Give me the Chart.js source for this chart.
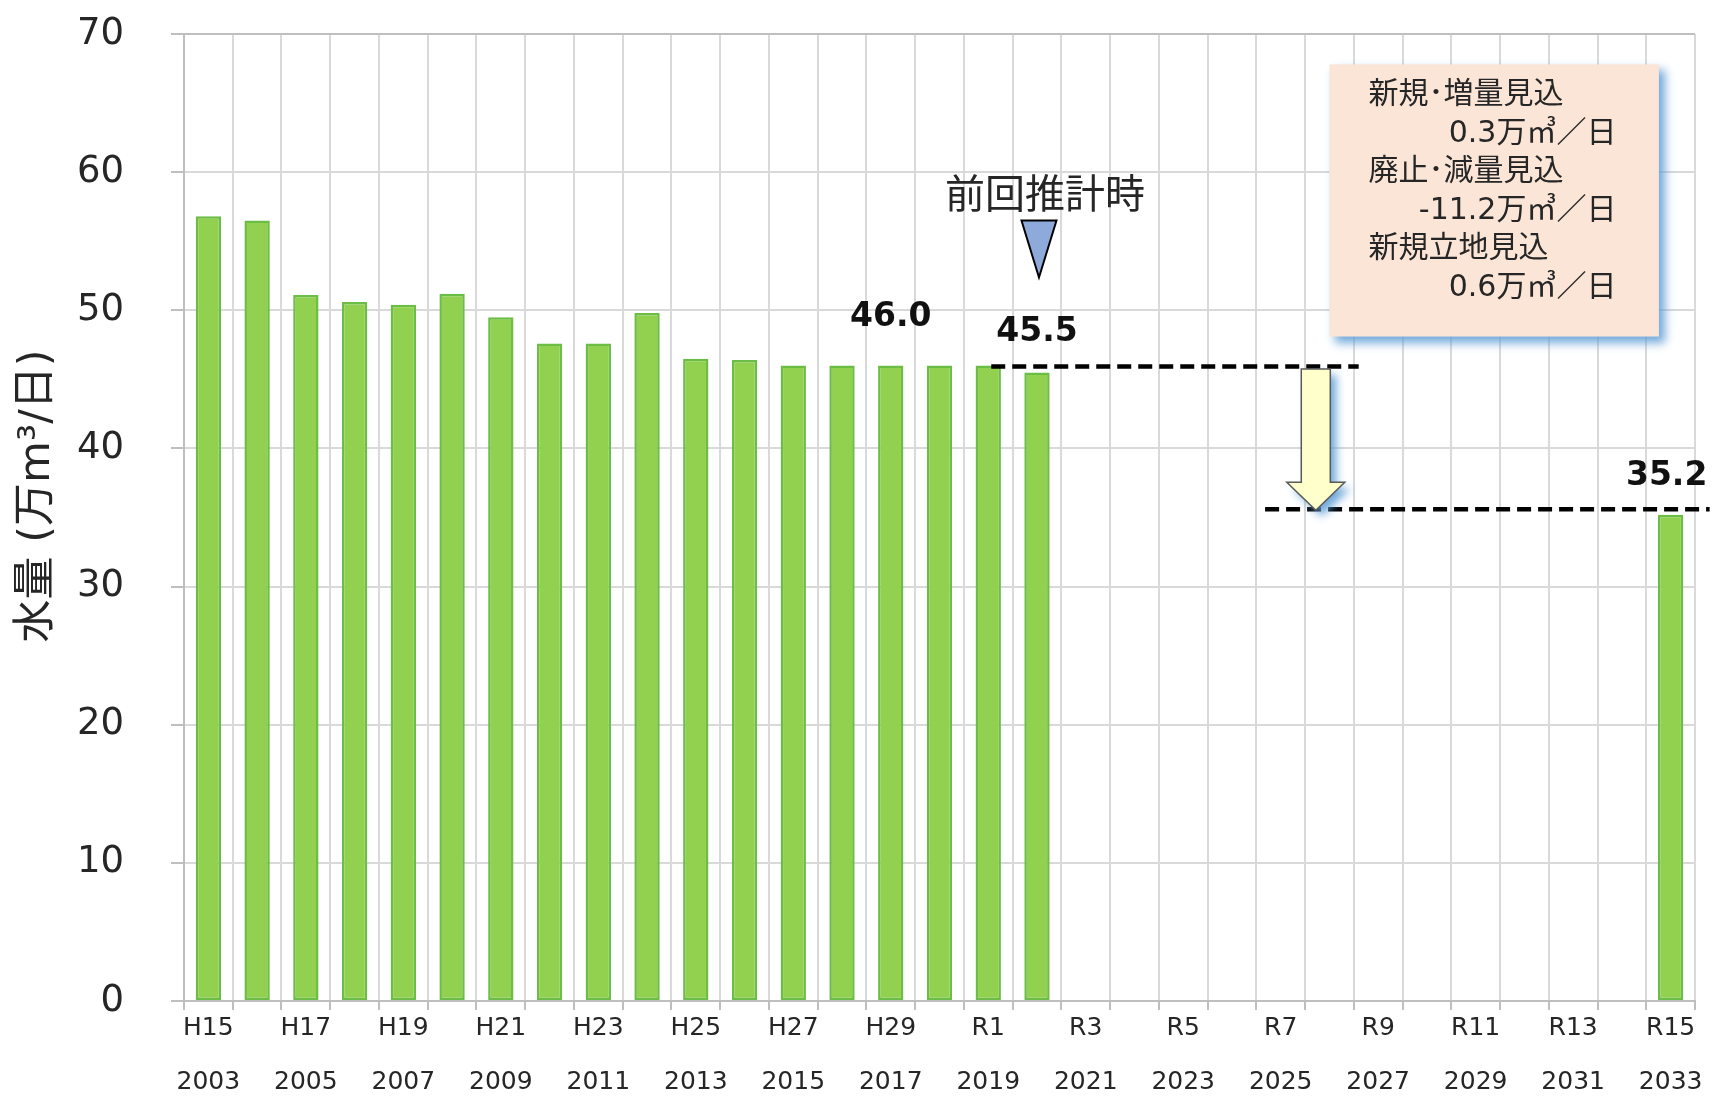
<!DOCTYPE html>
<html>
<head>
<meta charset="utf-8">
<script src="https://cdn.jsdelivr.net/npm/chart.js@4/dist/chart.umd.min.js"></script>
<style>
  html, body { margin: 0; padding: 0; background: #ffffff; }
  #wrap { width: 1719px; height: 1096px; }
</style>
</head>
<body>
<div id="wrap"><canvas id="chart" width="1719" height="1096"></canvas></div>
<script>
// ---------- data ----------
const years = [2003, 2004, 2005, 2006, 2007, 2008, 2009, 2010, 2011, 2012,
               2013, 2014, 2015, 2016, 2017, 2018, 2019, 2020, 2021, 2022,
               2023, 2024, 2025, 2026, 2027, 2028, 2029, 2030, 2031, 2032, 2033];
const eraLabels = ['H15', 'H16', 'H17', 'H18', 'H19', 'H20', 'H21', 'H22', 'H23', 'H24',
                   'H25', 'H26', 'H27', 'H28', 'H29', 'H30', 'R1', 'R2', 'R3', 'R4',
                   'R5', 'R6', 'R7', 'R8', 'R9', 'R10', 'R11', 'R12', 'R13', 'R14', 'R15'];
const waterVolume = [56.8, 56.5, 51.1, 50.6, 50.4, 51.2, 49.5, 47.6, 47.6, 49.8,
                     46.5, 46.4, 46.0, 46.0, 46.0, 46.0, 46.0, 45.5, null, null,
                     null, null, null, null, null, null, null, null, null, null, 35.2];
const yMin = 0, yMax = 70, yStep = 10;
const yTitle = '水量 (万m³/日)';

// annotation content
const valueLabels = [
  { year: 2017, value: 46.0, text: '46.0' },
  { year: 2020, value: 45.5, text: '45.5' },
  { year: 2033, value: 35.2, text: '35.2' }
];
const previousEstimate = { year: 2020, value: 45.5, text: '前回推計時' };
const previousLevel = 46.0;   // dashed line level (前回)
const forecastLevel = 35.2;   // dashed line level (R15)
const noteLines = [
  { text: '新規･増量見込', align: 'left' },
  { text: '0.3万㎥／日', align: 'right' },
  { text: '廃止･減量見込', align: 'left' },
  { text: '-11.2万㎥／日', align: 'right' },
  { text: '新規立地見込', align: 'left' },
  { text: '0.6万㎥／日', align: 'right' }
];

// ---------- styles ----------
const LATIN_JP = "'DejaVu Sans', 'Noto Sans CJK JP', sans-serif";
const TEXT = '#262626';
const GRID = '#d9d9d9';
const AXIS = '#bfbfbf';

const annotationPlugin = {
  id: 'annotations',
  afterDatasetsDraw(chart) {
    const { ctx, scales: { x, y } } = chart;
    const xOf = yr => x.getPixelForValue(years.indexOf(yr));
    ctx.save();

    // value labels
    ctx.fillStyle = '#111111';
    ctx.font = "bold 33px 'DejaVu Sans', sans-serif";
    ctx.textAlign = 'center';
    ctx.textBaseline = 'middle';
    const lift = { 2017: 48, 2020: 40, 2033: 38 };
    const shift = { 2017: 0, 2020: 0, 2033: -4 };
    valueLabels.forEach(l => {
      ctx.fillText(l.text, xOf(l.year) + shift[l.year], y.getPixelForValue(l.value) - lift[l.year]);
    });

    // dashed level lines
    const y1 = y.getPixelForValue(previousLevel) + 1;
    const y2 = y.getPixelForValue(forecastLevel) - 5.5;
    ctx.strokeStyle = '#000000';
    ctx.lineWidth = 4.5;
    ctx.setLineDash([14, 7]);
    ctx.beginPath();
    ctx.moveTo(xOf(2019) + 3, y1);
    ctx.lineTo(x.getPixelForValue(23.6), y1);
    ctx.stroke();
    ctx.beginPath();
    ctx.moveTo(x.getPixelForValue(21.68), y2);
    ctx.lineTo(x.getPixelForValue(30.8), y2);
    ctx.stroke();
    ctx.setLineDash([]);

    // down arrow
    const ax = x.getPixelForValue(22.72);
    const aTop = y1 + 2.5, aTip = y2 + 1;
    const headH = 28, shaftW = 14.5, headW = 29;
    ctx.save();
    ctx.shadowColor = 'rgba(91,155,213,0.85)';
    ctx.shadowBlur = 8;
    ctx.shadowOffsetX = 6;
    ctx.shadowOffsetY = 6;
    ctx.beginPath();
    ctx.moveTo(ax - shaftW, aTop);
    ctx.lineTo(ax + shaftW, aTop);
    ctx.lineTo(ax + shaftW, aTip - headH);
    ctx.lineTo(ax + headW, aTip - headH);
    ctx.lineTo(ax, aTip);
    ctx.lineTo(ax - headW, aTip - headH);
    ctx.lineTo(ax - shaftW, aTip - headH);
    ctx.closePath();
    ctx.fillStyle = '#ffffcc';
    ctx.fill();
    ctx.restore();
    ctx.strokeStyle = '#595959';
    ctx.lineWidth = 1.5;
    ctx.stroke();

    // previous estimate marker
    const barTop = y.getPixelForValue(previousEstimate.value);
    const tx = xOf(previousEstimate.year) + 2;
    ctx.beginPath();
    ctx.moveTo(tx - 17.5, barTop - 152);
    ctx.lineTo(tx + 17.5, barTop - 152);
    ctx.lineTo(tx, barTop - 95);
    ctx.closePath();
    ctx.fillStyle = '#8eaadb';
    ctx.fill();
    ctx.strokeStyle = '#000000';
    ctx.lineWidth = 2;
    ctx.stroke();
    ctx.fillStyle = TEXT;
    ctx.font = "40px 'Noto Sans CJK JP', sans-serif";
    ctx.textAlign = 'center';
    ctx.fillText(previousEstimate.text, tx + 6, barTop - 180);

    // note box
    const bl = x.getPixelForValue(23.0), br = x.getPixelForValue(29.76);
    const bt = y.getPixelForValue(67.8), bb = y.getPixelForValue(48.1);
    ctx.save();
    ctx.shadowColor = 'rgba(91,155,213,0.85)';
    ctx.shadowBlur = 9;
    ctx.shadowOffsetX = 6;
    ctx.shadowOffsetY = 6;
    ctx.fillStyle = '#fbe5d6';
    ctx.fillRect(bl, bt, br - bl, bb - bt);
    ctx.restore();
    ctx.fillStyle = TEXT;
    ctx.font = "30px " + LATIN_JP;
    ctx.textBaseline = 'middle';
    noteLines.forEach((l, i) => {
      const ly = bt + 31 + i * 38.5;
      if (l.align === 'left') { ctx.textAlign = 'left'; ctx.fillText(l.text, bl + 39, ly); }
      else { ctx.textAlign = 'right'; ctx.fillText(l.text, bl + 287, ly); }
    });

    ctx.restore();
  }
};

new Chart(document.getElementById('chart'), {
  type: 'bar',
  data: {
    labels: years.map(String),
    datasets: [{
      data: waterVolume,
      backgroundColor: '#92d050',
      borderColor: '#6cbd45',
      borderWidth: 2.5,
      borderSkipped: false,
      barPercentage: 0.52,
      categoryPercentage: 1.0
    }]
  },
  options: {
    responsive: false,
    animation: false,
    devicePixelRatio: 1,
    layout: { padding: { left: 0, right: 24, top: 34, bottom: 0 } },
    plugins: { legend: { display: false }, tooltip: { enabled: false } },
    scales: {
      x: {
        offset: true,
        grid: { offset: true, color: GRID, lineWidth: 2, tickLength: 9, tickColor: AXIS, tickWidth: 2 },
        border: { color: AXIS, width: 2 },
        ticks: {
          autoSkip: false,
          maxRotation: 0,
          padding: -9,
          color: TEXT,
          font: { family: "'DejaVu Sans', sans-serif", size: 25, lineHeight: 2.16 },
          callback: (v, i) => (i % 2 === 0 ? [eraLabels[i], String(years[i])] : '')
        },
        afterFit: s => { s.height = 95; s.paddingLeft = 0; s.paddingRight = 0; }
      },
      y: {
        min: yMin, max: yMax,
        grid: {
          color: c => (c.tick && c.tick.value === yMax ? AXIS : GRID),
          lineWidth: 2, tickLength: 13, tickColor: AXIS, tickWidth: 2
        },
        border: { color: AXIS, width: 2 },
        ticks: {
          stepSize: yStep,
          padding: 47,
          color: TEXT,
          font: { family: "'DejaVu Sans', sans-serif", size: 37 }
        },
        title: {
          display: true,
          text: '\u2002\u2002' + yTitle,
          color: TEXT,
          padding: { top: 16, bottom: 0 },
          font: { family: LATIN_JP, size: 43, lineHeight: 1 }
        },
        afterFit: s => { s.width = 184; s.paddingTop = 0; s.paddingBottom = 0; }
      }
    }
  },
  plugins: [annotationPlugin]
});
</script>
</body>
</html>
